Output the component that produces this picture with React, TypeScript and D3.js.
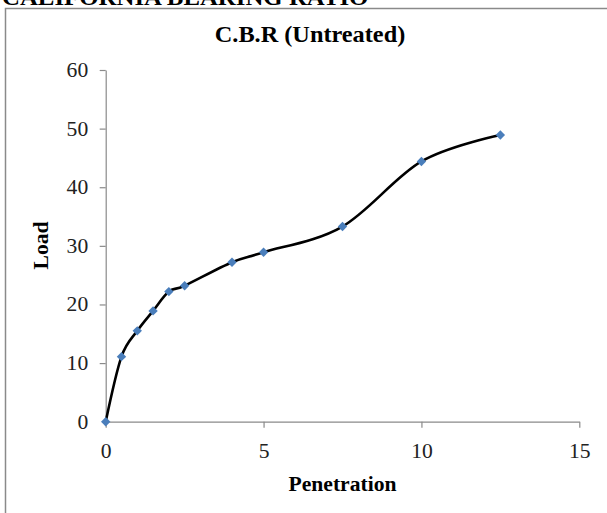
import React, { useRef, useEffect } from "react";
import * as d3 from "d3";

// C.B.R test, untreated soil
const penetration = [0, 0.5, 1, 1.5, 2, 2.5, 4, 5, 7.5, 10, 12.5];
const load = [0, 11.1, 15.5, 18.9, 22.2, 23.2, 27.2, 28.9, 33.3, 44.4, 48.9];
const xTicks = [0, 5, 10, 15];
const yTicks = [0, 10, 20, 30, 40, 50, 60];

const W = 607;
const H = 513;
const FONT = "'Liberation Serif', 'Times New Roman', serif";
const SX = 1.08;

const App = () => {
	const svgRef = useRef<SVGSVGElement | null>(null);

	useEffect(() => {
		if (!svgRef.current) return;
		const svg = d3.select(svgRef.current);
		svg.selectAll("*").remove();

		const margin = { top: 70, right: 27.7, bottom: 91.3, left: 105.7 };
		const x = d3.scaleLinear().domain([0, 15]).range([margin.left, W - margin.right]);
		const y = d3.scaleLinear().domain([0, 60]).range([H - margin.bottom, margin.top]);

		svg.append("rect").attr("width", W).attr("height", H).attr("fill", "#fff");

		// page heading, cut off at the top
		svg.append("text")
			.attr("transform", `translate(2,4.5) scale(${SX},1)`)
			.style("font-family", FONT)
			.style("font-size", "23px")
			.style("font-weight", "bold")
			.attr("fill", "#000")
			.text("CALIFORNIA BEARING RATIO");

		// chart area border
		svg.append("rect")
			.attr("x", 5.5)
			.attr("y", 8.5)
			.attr("width", 700)
			.attr("height", 600)
			.attr("fill", "none")
			.attr("stroke", "#8a8a8a")
			.attr("stroke-width", 1.5);

		svg.append("text")
			.attr("transform", `translate(310,41.7) scale(${SX},1)`)
			.attr("text-anchor", "middle")
			.style("font-family", FONT)
			.style("font-size", "22.5px")
			.style("font-weight", "bold")
			.text("C.B.R (Untreated)");

		const yAxis = d3.axisLeft(y).tickValues(yTicks).tickSize(6).tickSizeOuter(0).tickPadding(11.5);
		const gy = svg.append("g").attr("transform", `translate(${margin.left},0)`).call(yAxis);

		const xAxis = d3.axisBottom(x).tickValues(xTicks).tickSize(6).tickSizeOuter(0).tickPadding(16);
		const gx = svg.append("g").attr("transform", `translate(0,${H - margin.bottom})`).call(xAxis);

		[gx, gy].forEach((g) => {
			g.select(".domain").attr("stroke", "#8a8a8a").attr("stroke-width", 1.2);
			g.selectAll(".tick line").attr("stroke", "#8a8a8a").attr("stroke-width", 1.2);
			g.selectAll(".tick text")
				.style("font-family", FONT)
				.style("font-size", "20px")
				.attr("fill", "#222")
				.attr("transform", `scale(${SX},1)`);
		});
		gy.selectAll(".tick text").attr("x", -17.5 / SX);
		gy.selectAll(".tick line").filter((d) => d === 0).remove();

		svg.append("text")
			.attr("transform", `translate(342.5,491) scale(${SX},1)`)
			.attr("text-anchor", "middle")
			.style("font-family", FONT)
			.style("font-size", "20px")
			.style("font-weight", "bold")
			.text("Penetration");

		svg.append("text")
			.attr("transform", `translate(48,245.5) rotate(-90) scale(${SX},1)`)
			.attr("text-anchor", "middle")
			.style("font-family", FONT)
			.style("font-size", "20px")
			.style("font-weight", "bold")
			.text("Load");

		const pts: [number, number][] = penetration.map((p, i) => [p, load[i]]);
		const line = d3
			.line<[number, number]>()
			.x((d) => x(d[0]))
			.y((d) => y(d[1]))
			.curve(d3.curveCardinal.tension(0));

		svg.append("path")
			.datum(pts)
			.attr("d", line)
			.attr("fill", "none")
			.attr("stroke", "#000")
			.attr("stroke-width", 2.6);

		svg.append("g")
			.selectAll("path")
			.data(pts)
			.join("path")
			.attr("transform", (d) => `translate(${x(d[0])},${y(d[1])}) rotate(45)`)
			.attr("d", d3.symbol(d3.symbolSquare, 44)())
			.attr("fill", "#4a7ebb");
	}, []);

	return (
		<div style={{ position: "absolute", left: 0, top: 0, width: W, height: H }}>
			<svg ref={svgRef} width={W} height={H}></svg>
		</div>
	);
};

export default App;
